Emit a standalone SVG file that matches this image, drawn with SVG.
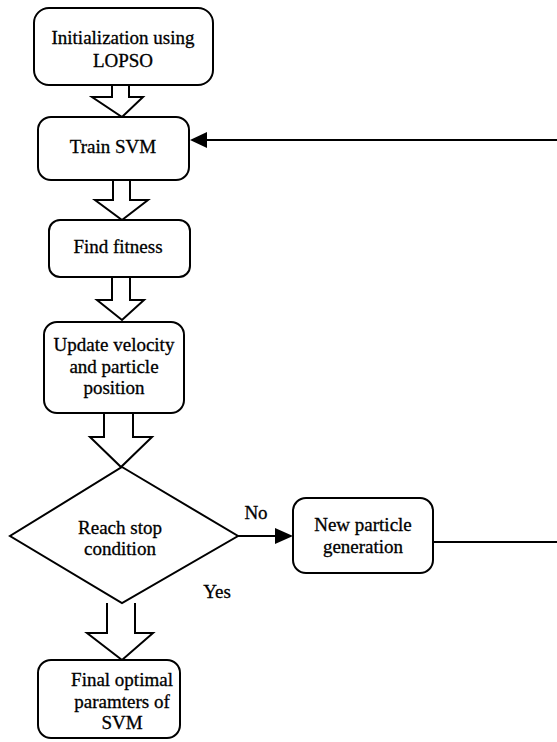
<svg xmlns="http://www.w3.org/2000/svg" width="557" height="742" viewBox="0 0 557 742">
<style>
.box{fill:#fff;stroke:#000;stroke-width:2}
.harrow{fill:#fff;stroke:#000;stroke-width:2;stroke-linejoin:miter}
.line{fill:none;stroke:#000;stroke-width:2}
.t{font-size:19px;fill:#000;text-anchor:middle;stroke:#000;stroke-width:0.3}
</style>
<g font-family="Liberation Serif">
<g id="connectors">
<path class="harrow" d="M112,85 V97 H92 L122,117 L143,97 H129 V85"/>
<path class="harrow" d="M113,180 V200 H95 L122,220 L148,200 H130 V180"/>
<path class="harrow" d="M112,277 V300 H97 L122,320 L144,300 H130 V277"/>
<path class="harrow" d="M104,413 V437 H90 L121,467 L152,437 H133 V413"/>
<path class="harrow" d="M107,603 V633 H87 L122,660 L153,633 H135 V603"/>
<line class="line" x1="238" y1="536" x2="276" y2="536"/>
<path d="M275,528 L293,536 L275,544 Z" fill="#000"/>
<line class="line" x1="433" y1="542" x2="557" y2="542"/>
<line class="line" x1="207" y1="140" x2="557" y2="140"/>
<path d="M207,132 L190,140 L207,148 Z" fill="#000"/>
<text class="t" font-family="Liberation Serif" x="256" y="519">No</text>
<text class="t" font-family="Liberation Serif" x="217" y="598">Yes</text>
</g>
<g id="init">
<rect class="box" x="34" y="8" width="179" height="77" rx="15"/>
<text class="t" font-family="Liberation Serif" x="123" y="44">Initialization using</text>
<text class="t" font-family="Liberation Serif" x="123" y="67">LOPSO</text>
</g>
<g id="train">
<rect class="box" x="38" y="117" width="151" height="63" rx="13"/>
<text class="t" font-family="Liberation Serif" x="113" y="153">Train SVM</text>
</g>
<g id="fitness">
<rect class="box" x="49" y="220" width="141" height="57" rx="11"/>
<text class="t" font-family="Liberation Serif" x="118" y="253">Find fitness</text>
</g>
<g id="update">
<rect class="box" x="44" y="322" width="140" height="91" rx="13"/>
<text class="t" font-family="Liberation Serif" x="114" y="351">Update velocity</text>
<text class="t" font-family="Liberation Serif" x="114" y="373">and particle</text>
<text class="t" font-family="Liberation Serif" x="114" y="394">position</text>
</g>
<g id="decision">
<path class="box" d="M122,467 L238,536 L122,603 L10,536 Z"/>
<text class="t" font-family="Liberation Serif" x="120" y="534">Reach stop</text>
<text class="t" font-family="Liberation Serif" x="120" y="555">condition</text>
</g>
<g id="newgen">
<rect class="box" x="293" y="498" width="140" height="75" rx="13"/>
<text class="t" font-family="Liberation Serif" x="363" y="531">New particle</text>
<text class="t" font-family="Liberation Serif" x="363" y="553">generation</text>
</g>
<g id="final">
<rect class="box" x="38" y="660" width="142" height="78" rx="13"/>
<text class="t" font-family="Liberation Serif" x="122" y="686">Final optimal</text>
<text class="t" font-family="Liberation Serif" x="122" y="708">paramters of</text>
<text class="t" font-family="Liberation Serif" x="122" y="729">SVM</text>
</g>
</g>
</svg>
